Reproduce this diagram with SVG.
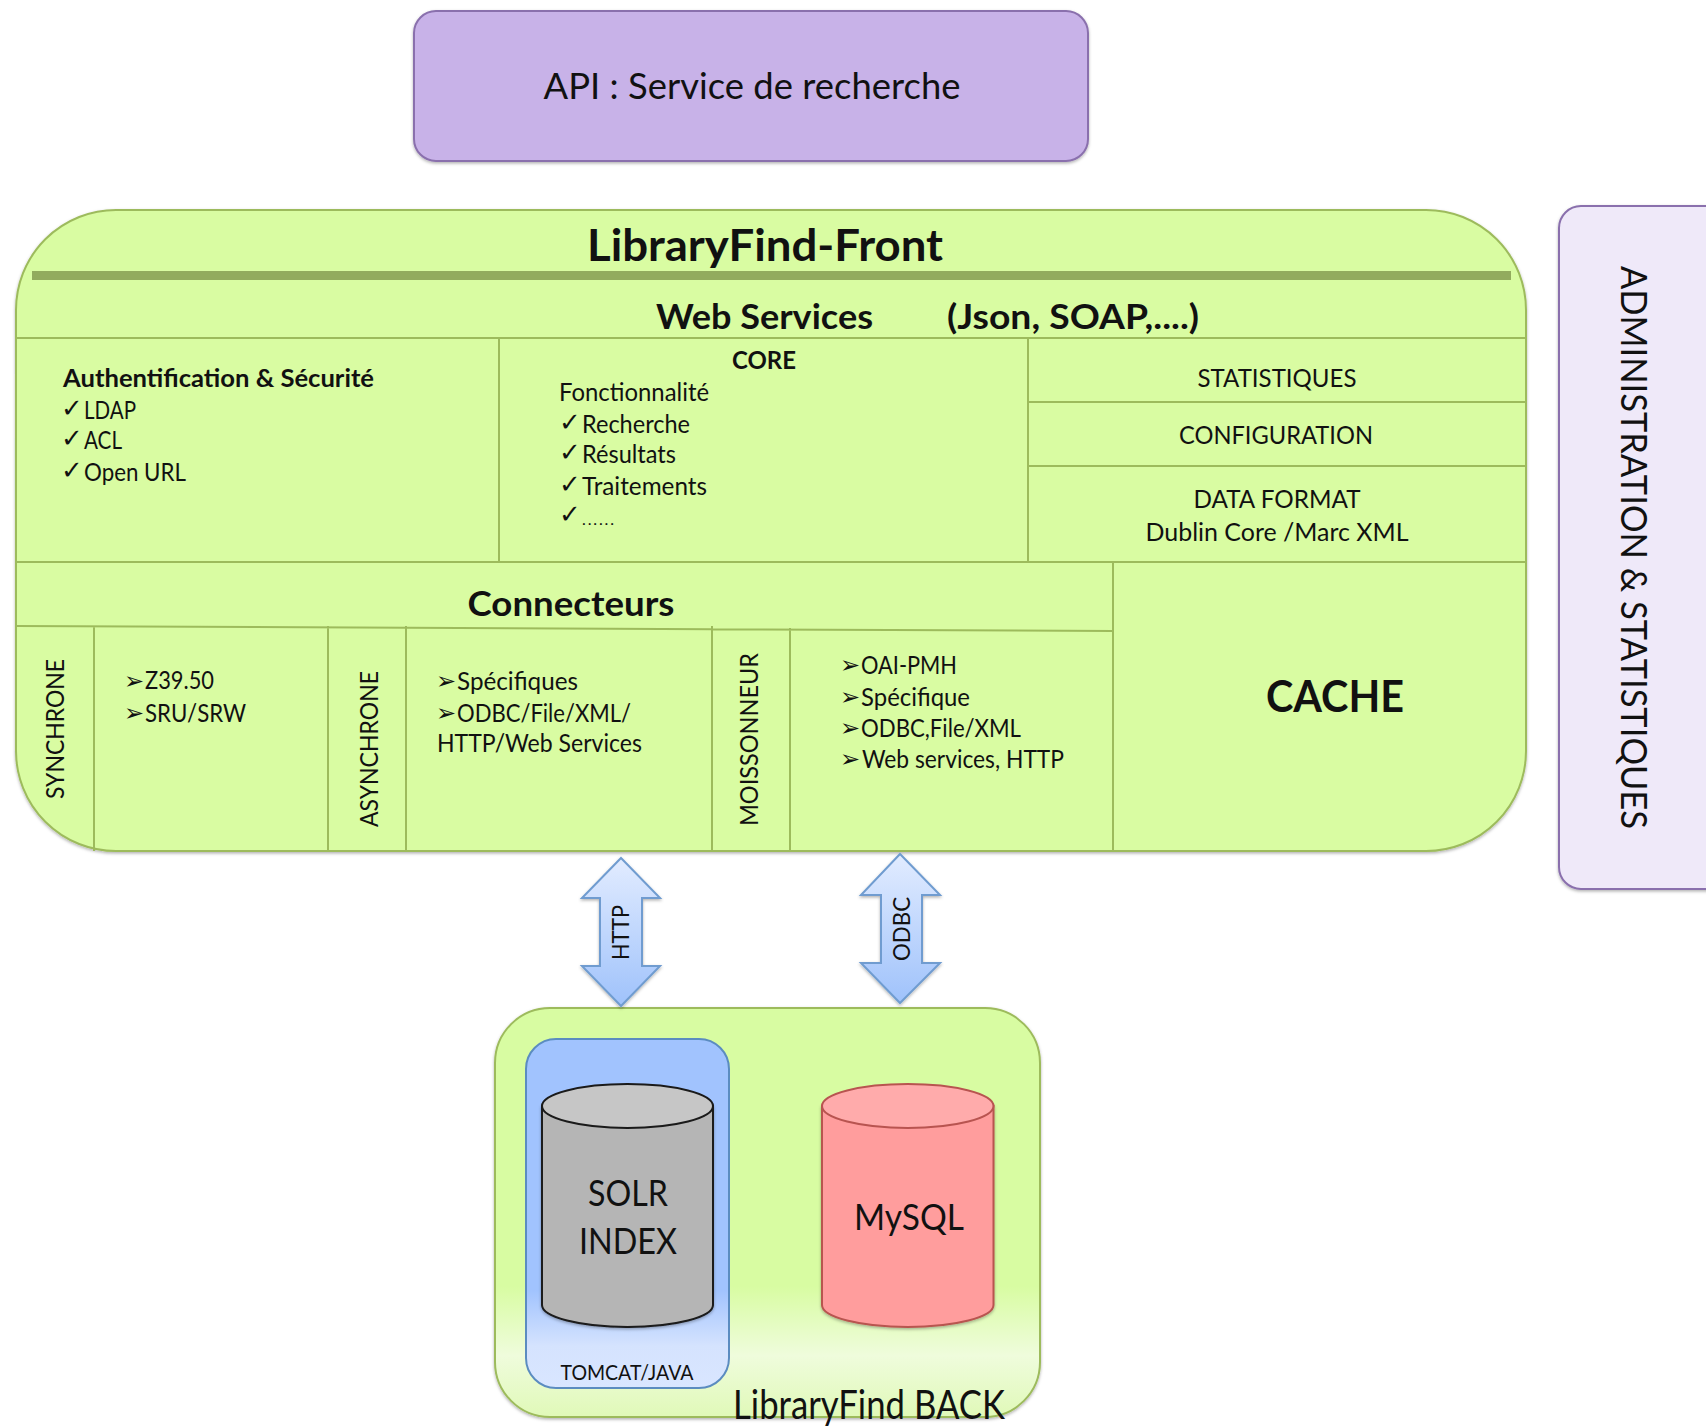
<svg xmlns="http://www.w3.org/2000/svg" width="1706" height="1428" viewBox="0 0 1706 1428">
<style>
text{font-family:"Lato","Liberation Sans",sans-serif;fill:#111}
.b{font-weight:700}
.l{fill:none;stroke:#9dbb5c;stroke-width:2}
.c{font-family:"DejaVu Sans",sans-serif;font-size:26px}
.a{font-family:"DejaVu Sans",sans-serif;font-size:24px}
.t{font-size:25px}
.m{text-anchor:middle}
</style>
<defs>
<linearGradient id="ga" x1="0" y1="0" x2="0" y2="1"><stop offset="0" stop-color="#e2ecff"/><stop offset="1" stop-color="#9fc2fb"/></linearGradient>
<linearGradient id="gb" x1="0" y1="0" x2="0" y2="1"><stop offset="0" stop-color="#d8fca2"/><stop offset=".68" stop-color="#d8fca2"/><stop offset=".85" stop-color="#effcdc"/><stop offset="1" stop-color="#e0f9b8"/></linearGradient>
<linearGradient id="gt" x1="0" y1="0" x2="0" y2="1"><stop offset="0" stop-color="#a1c3fe"/><stop offset=".72" stop-color="#a1c3fe"/><stop offset=".88" stop-color="#d5e3fe"/><stop offset="1" stop-color="#d9e6ff"/></linearGradient>
<filter id="sh" x="-5%" y="-5%" width="110%" height="110%"><feDropShadow dx="0" dy="1.5" stdDeviation="1.5" flood-color="#000" flood-opacity=".3"/></filter>
</defs>
<g id="api"><rect x="414" y="11" width="674" height="150" rx="22" fill="#c8b2e8" stroke="#8a70ad" stroke-width="2" filter="url(#sh)"/>
<text x="752" y="99" class="m" font-size="37" textLength="417" lengthAdjust="spacingAndGlyphs">API : Service de recherche</text></g>
<g id="admin"><rect x="1559" y="206" width="180" height="683" rx="22" fill="#efe9f9" stroke="#8a70ad" stroke-width="2" filter="url(#sh)"/>
<text transform="translate(1621 266) rotate(90)" font-size="36" textLength="563" lengthAdjust="spacingAndGlyphs">ADMINISTRATION &amp; STATISTIQUES</text></g>
<g id="front"><rect x="16" y="210" width="1510" height="641" rx="100" fill="#d9fca2" stroke="#9dbb5c" stroke-width="2" filter="url(#sh)"/>
<rect x="32" y="271" width="1479" height="9" fill="#92ab5e"/>
<path class="l" d="M16 338H1526M499 338V562M1028 338V562M1028 402H1526M1028 466H1526M16 562H1526M1113 562V851M16 626L1113 631M94 626V851M328 626V851M406 626V851M712 626V851M790 628V851"/>
<text x="765" y="261" class="b m" font-size="44" textLength="356" lengthAdjust="spacingAndGlyphs">LibraryFind-Front</text>
<text x="656" y="329" class="b" font-size="35" textLength="217" lengthAdjust="spacingAndGlyphs">Web Services</text>
<text x="947" y="329" class="b" font-size="35" textLength="252" lengthAdjust="spacingAndGlyphs">(Json, SOAP,....)</text>
<text x="63" y="387" class="b" font-size="25" textLength="311" lengthAdjust="spacingAndGlyphs">Authentification &amp; Sécurité</text>
<text x="61" y="417" class="c">✓</text><text x="84" y="419" class="t" textLength="52" lengthAdjust="spacingAndGlyphs">LDAP</text>
<text x="61" y="447" class="c">✓</text><text x="84" y="449" class="t" textLength="38" lengthAdjust="spacingAndGlyphs">ACL</text>
<text x="61" y="479" class="c">✓</text><text x="84" y="481" class="t" textLength="102" lengthAdjust="spacingAndGlyphs">Open URL</text>
<text x="764" y="369" class="b m" font-size="25" textLength="64" lengthAdjust="spacingAndGlyphs">CORE</text>
<text x="559" y="401" class="t" textLength="150" lengthAdjust="spacingAndGlyphs">Fonctionnalité</text>
<text x="559" y="431" class="c">✓</text><text x="582" y="433" class="t" textLength="108" lengthAdjust="spacingAndGlyphs">Recherche</text>
<text x="559" y="461" class="c">✓</text><text x="582" y="463" class="t" textLength="94" lengthAdjust="spacingAndGlyphs">Résultats</text>
<text x="559" y="493" class="c">✓</text><text x="582" y="495" class="t" textLength="125" lengthAdjust="spacingAndGlyphs">Traitements</text>
<text x="559" y="523" class="c">✓</text><text x="582" y="525" font-size="16" textLength="32" lengthAdjust="spacing">......</text>
<text x="1277" y="387" class="t m" textLength="159" lengthAdjust="spacingAndGlyphs">STATISTIQUES</text>
<text x="1276" y="444" class="t m" textLength="194" lengthAdjust="spacingAndGlyphs">CONFIGURATION</text>
<text x="1277" y="508" class="t m" textLength="167" lengthAdjust="spacingAndGlyphs">DATA FORMAT</text>
<text x="1277" y="541" class="t m" textLength="263" lengthAdjust="spacingAndGlyphs">Dublin Core /Marc XML</text>
<text x="571" y="616" class="b m" font-size="35" textLength="207" lengthAdjust="spacingAndGlyphs">Connecteurs</text>
<text x="1335" y="712" class="b m" font-size="44" textLength="138" lengthAdjust="spacingAndGlyphs">CACHE</text>
<text transform="translate(64 799) rotate(-90)" font-size="25" textLength="140" lengthAdjust="spacingAndGlyphs">SYNCHRONE</text>
<text transform="translate(378 827) rotate(-90)" font-size="25" textLength="156" lengthAdjust="spacingAndGlyphs">ASYNCHRONE</text>
<text transform="translate(758 826) rotate(-90)" font-size="25" textLength="173" lengthAdjust="spacingAndGlyphs">MOISSONNEUR</text>
<text x="124" y="689" class="a">➢</text><text x="145" y="689" class="t" textLength="69" lengthAdjust="spacingAndGlyphs">Z39.50</text>
<text x="124" y="721" class="a">➢</text><text x="145" y="722" class="t" textLength="101" lengthAdjust="spacingAndGlyphs">SRU/SRW</text>
<text x="436" y="689" class="a">➢</text><text x="457" y="690" class="t" textLength="121" lengthAdjust="spacingAndGlyphs">Spécifiques</text>
<text x="436" y="721" class="a">➢</text><text x="457" y="722" class="t" textLength="174" lengthAdjust="spacingAndGlyphs">ODBC/File/XML/</text>
<text x="437" y="752" class="t" textLength="205" lengthAdjust="spacingAndGlyphs">HTTP/Web Services</text>
<text x="840" y="673" class="a">➢</text><text x="861" y="674" class="t" textLength="96" lengthAdjust="spacingAndGlyphs">OAI-PMH</text>
<text x="840" y="705" class="a">➢</text><text x="861" y="706" class="t" textLength="109" lengthAdjust="spacingAndGlyphs">Spécifique</text>
<text x="840" y="736" class="a">➢</text><text x="861" y="737" class="t" textLength="160" lengthAdjust="spacingAndGlyphs">ODBC,File/XML</text>
<text x="840" y="767" class="a">➢</text><text x="862" y="768" class="t" textLength="202" lengthAdjust="spacingAndGlyphs">Web services, HTTP</text></g>
<g id="back"><rect x="495" y="1008" width="545" height="409" rx="55" fill="url(#gb)" stroke="#9dbb5c" stroke-width="2" filter="url(#sh)"/></g>
<g id="tomcat"><rect x="526" y="1039" width="203" height="349" rx="30" fill="url(#gt)" stroke="#5b8cc0" stroke-width="2"/>
<text x="627" y="1380" class="m" font-size="21" textLength="133" lengthAdjust="spacingAndGlyphs">TOMCAT/JAVA</text></g>
<g id="solr"><path d="M542 1106V1305A85.500 22 0 0 0 713 1305V1106Z" fill="#b5b5b5" stroke="#1a1a1a" stroke-width="2" filter="url(#sh)"/><ellipse cx="627.500" cy="1106" rx="85.500" ry="22" fill="#c6c6c6" stroke="#1a1a1a" stroke-width="2"/>
<text x="628" y="1206" class="m" font-size="36" textLength="80" lengthAdjust="spacingAndGlyphs">SOLR</text>
<text x="628" y="1254" class="m" font-size="36" textLength="98" lengthAdjust="spacingAndGlyphs">INDEX</text></g>
<g id="mysql"><path d="M822 1106V1305A85.750 22 0 0 0 993.500 1305V1106Z" fill="#ff9d9d" stroke="#b85450" stroke-width="2" filter="url(#sh)"/><ellipse cx="907.750" cy="1106" rx="85.750" ry="22" fill="#ffabab" stroke="#b85450" stroke-width="2"/>
<text x="909" y="1230" class="m" font-size="36" textLength="110" lengthAdjust="spacingAndGlyphs">MySQL</text></g>
<g id="backlabel"><text x="733" y="1419" font-size="40" textLength="272" lengthAdjust="spacingAndGlyphs">LibraryFind BACK</text></g>
<g id="connectors">
<g id="http"><path d="M621 858L660 898H642V966H660L621 1006L582 966H600V898H582Z" fill="url(#ga)" stroke="#6f9cd0" stroke-width="2" filter="url(#sh)"/>
<text transform="translate(629 960) rotate(-90)" font-size="24" textLength="55" lengthAdjust="spacingAndGlyphs">HTTP</text></g>
<g id="odbc"><path d="M900 854L940 895H922V963H940L900 1003L861 963H881V895H861Z" fill="url(#ga)" stroke="#6f9cd0" stroke-width="2" filter="url(#sh)"/>
<text transform="translate(910 961) rotate(-90)" font-size="24" textLength="64" lengthAdjust="spacingAndGlyphs">ODBC</text></g>
</g>
</svg>
